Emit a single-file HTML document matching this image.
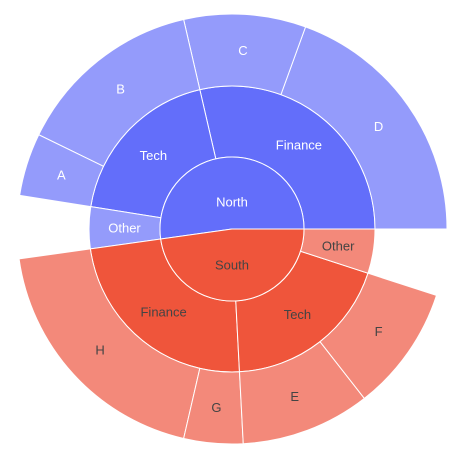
<!DOCTYPE html>
<html><head><meta charset="utf-8"><style>
html,body{margin:0;padding:0;background:#fff;}
svg{display:block;font-family:"Liberation Sans",sans-serif;font-size:13px;}
</style></head><body>
<svg id="chart" width="460" height="454"></svg>
<script>
// leaf data: [label, parent, value]
const regions = ["North", "South"];
const sectorLabels = ["Finance", "Tech", "Other", "Finance", "Tech", "Other"];
const sectorParents = ["North", "North", "North", "South", "South", "South"];
const leafLabels = ["D", "C", "B", "A", "H", "G", "E", "F"];
const leafParents = ["North/Finance", "North/Finance", "North/Tech", "North/Tech", "South/Finance", "South/Finance", "South/Tech", "South/Tech"];
const leafValues = [70, 33, 51, 17, 69, 16, 35, 34];
const otherValues = [17, 18]; // North/Other, South/Other leaf values

const cx = 232, cy = 229, r0 = 72, r1 = 143, r2 = 215;
const svg = document.getElementById('chart');
const NS = "http://www.w3.org/2000/svg";
const baseCol = {North: "#636efa", South: "#ef553b"};
const leafCol = {North: "#949bfb", South: "#f3897a"};
const txtCol = {North: "#fff", South: "#444"};

function sectorValue(i) {
  const key = sectorParents[i] + "/" + sectorLabels[i];
  if (sectorLabels[i] === "Other") return otherValues[regions.indexOf(sectorParents[i])];
  let s = 0; leafParents.forEach((p, j) => { if (p === key) s += leafValues[j]; }); return s;
}
const sectorVals = sectorLabels.map((_, i) => sectorValue(i));
const regionVals = regions.map(r => { let s = 0; sectorParents.forEach((p, i) => { if (p === r) s += sectorVals[i]; }); return s; });
const total = regionVals.reduce((a, b) => a + b, 0);
const angle = v => v / total * 2 * Math.PI;
function pt(r, a) { return [cx + r * Math.cos(a), cy - r * Math.sin(a)]; }
function arcPath(ri, ro, a0, a1) {
  const large = (a1 - a0) > Math.PI ? 1 : 0;
  const p0 = pt(ro, a0), p1 = pt(ro, a1), p2 = pt(ri, a1), p3 = pt(ri, a0);
  if (ri === 0) return `M${cx},${cy}L${p0}A${ro},${ro} 0 ${large} 0 ${p1}Z`;
  return `M${p0}A${ro},${ro} 0 ${large} 0 ${p1}L${p2}A${ri},${ri} 0 ${large} 1 ${p3}Z`;
}
function draw(ri, ro, a0, a1, fill, label, tcol, name) {
  const g = document.createElementNS(NS, 'g');
  
  
  const p = document.createElementNS(NS, 'path');
  p.setAttribute('d', arcPath(ri, ro, a0, a1));
  p.setAttribute('fill', fill); p.setAttribute('stroke', '#fff'); p.setAttribute('stroke-width', '1');
  g.appendChild(p);
  const t = document.createElementNS(NS, 'text');
  const mid = (a0 + a1) / 2;
  const [tx, ty] = ri === 0 ? [cx, cy + (mid > Math.PI ? 36 : -27)] : pt((ri + ro) / 2, mid);
  t.setAttribute('x', tx); t.setAttribute('y', ty + 4.5);
  t.setAttribute('text-anchor', 'middle'); t.setAttribute('fill', tcol);
  t.textContent = label;
  g.appendChild(t);
  svg.appendChild(g);
}
let a = 0;
const rootStart = {};
regions.forEach((r, i) => { rootStart[r] = a; a += angle(regionVals[i]); });
// draw inner half-circles after rings; ring sectors
let sa = 0; const sectorStart = {};
sectorLabels.forEach((s, i) => {
  const key = sectorParents[i] + "/" + s;
  sectorStart[key] = sa;
  const e = sa + angle(sectorVals[i]);
  const reg = sectorParents[i];
  draw(r0, r1, sa, e, s === "Other" ? leafCol[reg] : baseCol[reg], s, txtCol[reg], 'sector-' + key.toLowerCase().replace('/', '-'));
  sa = e;
});
const cursor = Object.assign({}, sectorStart);
leafLabels.forEach((l, i) => {
  const key = leafParents[i];
  const reg = key.split('/')[0];
  const s = cursor[key], e = s + angle(leafValues[i]);
  cursor[key] = e;
  draw(r1, r2, s, e, leafCol[reg], l, txtCol[reg], 'leaf-' + l.toLowerCase());
});
regions.forEach((r, i) => {
  draw(0, r0, rootStart[r], rootStart[r] + angle(regionVals[i]), baseCol[r], r, txtCol[r], 'region-' + r.toLowerCase());
});
</script>
</body></html>
